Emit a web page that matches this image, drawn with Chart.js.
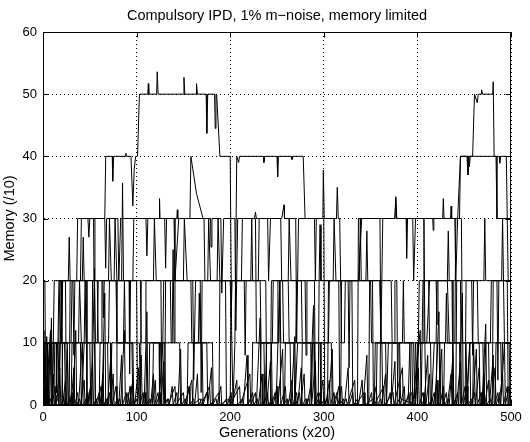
<!DOCTYPE html>
<html>
<head>
<meta charset="utf-8">
<script src="https://cdn.jsdelivr.net/npm/chart.js@4"></script>
<style>
    html, body { margin: 0; padding: 0; background: #fff; }
    #wrap { width: 530px; height: 442px; }
</style>
</head>
<body>
<div id="wrap"><canvas id="chart" width="530" height="442"></canvas></div>
<script>

// =========================================================
// Data ([generation, memory])
// =========================================================

const TITLE = 'Compulsory IPD, 1% m\u2212noise, memory limited';
const X_LABEL = 'Generations (x20)';
const Y_LABEL = 'Memory (/10)';
const xTickValues = [0, 100, 200, 300, 400, 500];
const yTickValues = [0, 10, 20, 30, 40, 50, 60];

// population that climbs to 50 early on
const climberLeft = [[0,3],[2,10],[12,10],[13,0],[16,1],[18,20],[27,20],[28,27],[29,20],[36,20],[37,30],[48,30],[49,27],[50,30],[66,30],[67,40],[74,40],[74.5,36],[75.5,40],[88,40],[88.5,40.5],[89,40],[94,40],[96,32],[97.5,38],[99,40],[101,40],[103,50],[112,50],[112.5,51.7],[113,50],[121.5,50],[122,53.6],[123,50],[150,50],[150.6,52.7],[151.5,50],[163.5,50],[164,51.7],[165,50],[174.3,50],[175,43.7],[176,50],[183.3,50],[184,44.5],[184.8,50],[185.5,50],[189,40],[200,40],[201.5,12],[203,0],[205,10],[207,40],[209,39],[210,40],[235.5,40],[236,39],[237,40],[250,40],[250.7,36.7],[251.5,40],[265,40],[266,39.5],[267,40],[278,40],[280,30],[299,30],[299.5,37.8],[300.5,30],[313.5,30],[314.4,35],[315.5,30],[317,30],[318,20],[350,20],[351,10],[381,10],[382,1],[398,0],[401,10],[410,10],[413,20],[432,20],[434,10],[460,10],[462,0],[470,0],[471,5],[472,0],[500,0]];

// population that climbs to 50 near the end
const climberRight = [[0,0],[4,3],[5,0],[8,10],[30,10],[31,20],[55,20],[56,10],[70,10],[71,20],[96,20],[97,30],[130,30],[131,22],[132,30],[140,30],[141,20],[145,30],[172,30],[173,20],[212,20],[213,30],[227,30],[228,10],[245,10],[246,20],[276,20],[277,10],[305,10],[306,20],[337,20],[340.5,30],[376,30],[376.8,33.2],[377.6,30],[388,30],[388.5,23.6],[389.5,30],[416.4,30],[416.9,28.1],[417.6,30],[427,30],[427.7,33.2],[428.5,30],[435.4,30],[436,32],[436.6,30],[445,30],[446,40],[453,40],[454,37],[455,40],[459,40],[461,50],[464,48.6],[465,50],[468,50],[468.6,50.7],[469.5,50],[480.5,50],[481,52],[482,40],[484,40],[485,30],[500,30]];

const upperRight = [[0,20],[2,20],[3,0],[8,12],[9,0],[20,0],[21,10],[40,10],[41,0],[44,10],[58,10],[59,20],[70,20],[71,30],[73,20],[78,20],[79,10],[96,10],[97,0],[110,0],[111,10],[128,10],[129,20],[158,20],[159,10],[170,10],[171,0],[188,0],[189,20],[230,20],[231,30],[254,30],[255,20],[262,20],[263,10],[290,10],[291,0],[304,0],[305,20],[316,20],[317,0],[348,0],[349,20],[360,20],[361,10],[380,10],[381,0],[398,0],[400,10],[406,10],[407,30],[440,30],[441,20],[443,30],[446,40],[455,40],[455.5,38.3],[456.5,40],[487.5,40],[488,38.9],[489,40],[495,40],[497,20],[500,20]];

const level30 = [[0,0],[10,0],[11,10],[20,10],[21,20],[40,20],[41,30],[54,30],[54.5,20],[55.5,30],[66,30],[67,22],[68,30],[80,30],[81,20],[83,30],[110,30],[111,24],[112,30],[124,30],[124.5,33.2],[125,30],[143,30],[143.5,31.4],[144,30],[157,30],[158,40],[160,38],[164,34],[171,30],[179,30],[179.5,25.4],[180.5,30],[190,30],[191,18],[193,30],[205,30],[206,12],[208,30],[226,30],[227,31],[228,30],[240,30],[241,20],[243,30],[255,30],[257.5,32.2],[258,30],[270,30],[271,10],[273,30],[290,30],[291,20],[292,30],[300,30],[301,0],[318,0],[319,20],[330,20],[331,0],[336,0],[337,30],[360,30],[361,10],[363,30],[376,30],[377,33.5],[378,30],[395,30],[396,20],[398,30],[407,30],[408,10],[409,0],[420,0],[421,10],[440,10],[441,30],[447,30],[448,10],[466,10],[467,0],[480,0],[481,20],[490,20],[491,30],[493,10],[500,10]];

const level20a = [[0,10],[5,10],[6,0],[10,0],[12,20],[19,20],[19.5,10],[20.5,20],[32,20],[33,8],[34,20],[46,20],[47,0],[52,0],[53,20],[64,20],[64.5,14],[65.5,20],[76,20],[77,30],[79,20],[92,20],[92.5,5],[93.5,20],[104,20],[105,10],[109,10],[110,20],[126,20],[127,0],[130,0],[131,20],[150,20],[151,30],[154,20],[168,20],[169,2],[170,20],[186,20],[187,30],[189,20],[200,20],[201,14],[202,20],[215,20],[216,8],[217,20],[232,20],[233,10],[250,10],[251,20],[262,20],[263,30],[265,20],[280,20],[281,8],[282,20],[295,20],[296,29],[297,20],[310,20],[311,30],[313,20],[326,20],[327,6],[328,20],[345,20],[346,28],[347,20],[360,20],[361,10],[375,10],[376,20],[378,20],[379,0],[390,0],[392,10],[405,10],[406,20],[420,20],[421,13],[422,20],[437,20],[438,0],[441,0],[442,20],[458,20],[459,8],[460,20],[471,20],[472,30],[473,20],[485,20],[486,4],[487,20],[500,20]];

const level20b = [[0,0],[6,0],[7,10],[16,10],[17,20],[24,20],[25,0],[28,0],[29,20],[42,20],[43,27],[44,20],[58,20],[59,10],[62,10],[63,20],[84,20],[85,35.7],[86,20],[100,20],[101,0],[104,0],[105,20],[118,20],[119,30],[121,20],[136,20],[137,10],[140,10],[141,20],[160,20],[161,4],[163,20],[176,20],[177,30],[179,20],[195,20],[196,0],[200,0],[201,20],[222,20],[223,30],[224,20],[238,20],[239,0],[243,0],[244,20],[256,20],[257,10],[270,10],[271,20],[290,20],[291,0],[294,0],[295,20],[318,20],[319,10],[322,10],[323,20],[338,20],[339,30],[340,20],[352,20],[353,0],[360,0],[361,20],[372,20],[373,10],[394,10],[395,0],[400,0],[402,20],[412,20],[413,10],[420,10],[421,20],[432,20],[433,28],[434,20],[446,20],[447,0],[451,0],[452,20],[464,20],[465,10],[478,10],[479,20],[496,20],[497,0],[500,0]];

const level10a = [[0,10],[3,0],[5,10],[14,10],[14.5,2],[15.5,10],[26,10],[27,0],[30,0],[31,10],[44,10],[45,20],[46,10],[50,10],[51,0],[60,0],[61,10],[72,10],[72.5,0],[73.5,10],[86,10],[87,20],[88,10],[103,10],[104,0],[113,0],[114,10],[124,10],[124.5,1],[125.5,10],[138,10],[139,25],[140,10],[146,10],[147,0],[154,0],[155,10],[166,10],[167,18],[168,10],[181,10],[182,0],[223,0],[224,10],[236,10],[237,0],[239,10],[252,10],[253,20],[254,10],[268,10],[269,0],[272,10],[286,10],[287,1],[288,10],[308,10],[309,0],[354,0],[355,10],[366,10],[367,0],[369,10],[384,10],[385,20],[386,10],[396,10],[397,1],[398,10],[414,10],[415,0],[418,10],[430,10],[431,18],[432,10],[452,10],[453,0],[456,10],[470,10],[471,0],[473,10],[489,10],[490,2],[491,10],[500,10]];

const level10b = [[0,12],[1,0],[4,0],[5,10],[9,10],[10,0],[17,0],[18,10],[23,10],[24,0],[33,0],[34,10],[38,10],[39,20],[41,10],[55,10],[56,0],[64,0],[65,10],[69,10],[70,0],[78,0],[79,10],[95,10],[96,0],[117,0],[118,10],[130,10],[131,0],[160,0],[161,10],[175,10],[176,0],[232,0],[233,10],[244,10],[245,0],[258,0],[259,10],[264,10],[265,0],[276,0],[277,10],[296,10],[297,0],[356,0],[357,10],[362,10],[363,0],[372,0],[373,10],[392,10],[393,0],[404,0],[405,10],[424,10],[425,0],[428,0],[429,10],[445,10],[446,0],[459,0],[460,10],[476,10],[477,0],[483,0],[484,10],[498,10],[499,0],[500,0]];

const floorNoiseA = [[0,0],[2,8],[3,0],[6,2],[7,0],[9,14],[10,0],[13,3],[14,0],[18,6],[19,0],[22,1],[23,0],[26,9],[27,0],[31,2],[32,0],[35,12],[36,0],[39,1],[40,0],[44,4],[45,0],[48,2],[49,0],[53,7],[54,0],[57,1],[58,0],[62,3],[63,0],[66,18],[67,0],[71,2],[72,0],[75,5],[76,0],[80,1],[81,0],[84,8],[85,0],[89,2],[90,0],[93,3],[94,0],[97,1],[98,0],[102,6],[103,0],[107,2],[108,0],[111,15],[112,0],[116,1],[117,0],[120,4],[121,0],[125,2],[126,0],[129,7],[130,0],[134,1],[135,0],[138,3],[139,0],[143,2],[144,0],[147,9],[148,0],[152,1],[153,0],[156,3],[157,0],[161,1],[162,0],[165,5],[166,0],[170,1],[171,0],[175,2],[176,0],[180,6],[181,0],[185,1],[186,0],[190,3],[191,0],[196,1],[197,0],[201,2],[202,0],[207,4],[208,0],[213,1],[214,0],[218,8],[219,0],[224,2],[225,0],[229,1],[230,0],[234,5],[235,0],[240,2],[241,0],[245,1],[246,0],[250,3],[251,0],[256,9],[257,0],[261,1],[262,0],[266,4],[267,0],[271,2],[272,0],[276,6],[277,0],[281,1],[282,0],[286,3],[287,0],[291,7],[292,0],[296,2],[297,0],[301,1],[302,0],[306,4],[307,0],[311,2],[312,0],[316,3],[317,0],[321,1],[322,0],[326,6],[327,0],[331,2],[332,0],[336,1],[337,0],[341,4],[342,0],[346,8],[347,0],[351,2],[352,0],[356,3],[357,0],[361,1],[362,0],[366,5],[367,0],[371,2],[372,0],[376,7],[377,0],[381,1],[382,0],[386,3],[387,0],[391,2],[392,0],[396,1],[397,0],[401,6],[402,0],[406,2],[407,0],[411,8],[412,0],[416,1],[417,0],[421,4],[422,0],[426,9],[427,0],[431,2],[432,0],[436,5],[437,0],[441,1],[442,0],[446,7],[447,0],[451,3],[452,0],[456,10],[457,0],[461,2],[462,0],[466,6],[467,0],[471,1],[472,0],[476,4],[477,0],[481,8],[482,0],[486,2],[487,0],[491,5],[492,0],[496,3],[497,0],[500,0]];

const floorNoiseB = [[0,0],[1,3],[2,0],[4,11],[5,0],[8,1],[9,0],[11,5],[12,0],[16,2],[17,0],[20,20],[21,0],[24,4],[25,0],[29,1],[30,0],[33,6],[34,0],[37,2],[38,0],[42,10],[43,0],[46,1],[47,0],[51,3],[52,0],[55,22],[56,0],[60,2],[61,0],[64,5],[65,0],[68,1],[69,0],[73,9],[74,0],[78,3],[79,0],[82,1],[83,0],[87,12],[88,0],[91,2],[92,0],[96,4],[97,0],[100,1],[101,0],[105,8],[106,0],[109,2],[110,0],[114,1],[115,0],[118,5],[119,0],[123,2],[124,0],[128,10],[129,0],[133,1],[134,0],[141,3],[142,0],[150,2],[151,0],[159,4],[160,0],[168,1],[169,0],[178,3],[179,0],[188,2],[189,0],[199,1],[200,0],[210,3],[211,0],[221,5],[222,0],[227,2],[228,0],[232,14],[233,0],[238,1],[239,0],[243,7],[244,0],[248,2],[249,0],[253,20],[254,0],[259,3],[260,0],[264,1],[265,0],[269,11],[270,0],[274,2],[275,0],[279,5],[280,0],[284,1],[285,0],[289,16],[290,0],[294,2],[295,0],[299,4],[300,0],[304,1],[305,0],[309,9],[310,0],[314,2],[315,0],[319,3],[320,0],[324,1],[325,0],[333,4],[334,0],[343,2],[344,0],[353,1],[354,0],[364,3],[365,0],[374,2],[375,0],[384,6],[385,0],[394,2],[395,0],[403,12],[404,0],[408,1],[409,0],[413,5],[414,0],[418,2],[419,0],[423,15],[424,0],[428,3],[429,0],[433,1],[434,0],[438,8],[439,0],[443,2],[444,0],[448,18],[449,0],[453,3],[454,0],[458,1],[459,0],[463,9],[464,0],[468,2],[469,0],[473,13],[474,0],[478,1],[479,0],[483,6],[484,0],[488,2],[489,0],[493,10],[494,0],[498,3],[499,0],[500,0]];

const seriesList = [floorNoiseA, floorNoiseB, level10a, level10b, level20a, level20b, level30, upperRight, climberRight, climberLeft];

// =========================================================
// Plugins: title over plot area, box frame + inward ticks
// =========================================================

const FONT = "'Liberation Sans', Arial, Helvetica, sans-serif";
const LABEL_SIZE = 14.5;

const plotTitle = {
    id: 'plotTitle',
    afterDraw(chart) {
        const { ctx, chartArea: a } = chart;
        ctx.save();
        ctx.font = LABEL_SIZE + 'px ' + FONT;
        ctx.fillStyle = '#000';
        ctx.textAlign = 'center';
        ctx.textBaseline = 'alphabetic';
        ctx.fillText(TITLE, (a.left + a.right) / 2, 20);
        ctx.restore();
    }
};

const boxFrame = {
    id: 'boxFrame',
    afterDatasetsDraw(chart) {
        const { ctx, chartArea: a, scales: { x, y } } = chart;
        const L = a.left + 0.5, R = a.right - 0.5, T = a.top + 0.5, B = a.bottom - 0.5;
        ctx.save();
        ctx.strokeStyle = '#000';
        ctx.lineWidth = 1;
        ctx.strokeRect(L, T, R - L, B - T);
        ctx.beginPath();
        xTickValues.forEach(v => {
            const px = Math.round(x.getPixelForValue(v)) + 0.5;
            ctx.moveTo(px, B); ctx.lineTo(px, B - 5);
            ctx.moveTo(px, T); ctx.lineTo(px, T + 5);
        });
        yTickValues.forEach(v => {
            const py = Math.round(y.getPixelForValue(v)) + 0.5;
            ctx.moveTo(L, py); ctx.lineTo(L + 5, py);
            ctx.moveTo(R, py); ctx.lineTo(R - 5, py);
        });
        ctx.stroke();
        ctx.restore();
    }
};

// =========================================================
// Chart
// =========================================================

Chart.defaults.font.family = FONT;
Chart.defaults.font.size = 13;
Chart.defaults.color = '#000';

new Chart(document.getElementById('chart'), {
    type: 'line',
    data: {
        datasets: seriesList.map(s => ({
            data: s.map(([x, y]) => ({ x, y })),
            borderColor: '#000',
            borderWidth: 1,
            pointRadius: 0,
            fill: false,
            tension: 0
        }))
    },
    options: {
        responsive: false,
        animation: false,
        layout: { padding: { top: 32, right: 19, left: 0, bottom: 0 } },
        plugins: {
            legend: { display: false },
            tooltip: { enabled: false },
            title: { display: false }
        },
        scales: {
            x: {
                type: 'linear', min: 0, max: 500,
                ticks: { stepSize: 100, padding: 5, maxRotation: 0, color: '#000' },
                grid: { color: '#000', drawTicks: false },
                border: { display: true, color: '#000', dash: [1, 3] },
                title: { display: true, text: X_LABEL, font: { size: LABEL_SIZE }, padding: { top: 0, bottom: 0 } },
                afterFit: s => { s.height = 37; }
            },
            y: {
                type: 'linear', min: 0, max: 60,
                ticks: { stepSize: 10, padding: 6, color: '#000' },
                grid: { color: '#000', drawTicks: false },
                border: { display: true, color: '#000', dash: [1, 3] },
                title: { display: true, text: Y_LABEL, font: { size: LABEL_SIZE }, padding: { top: 1, bottom: 0 } },
                afterFit: s => { s.width = 43; }
            }
        }
    },
    plugins: [plotTitle, boxFrame]
});
</script>
</body>
</html>
